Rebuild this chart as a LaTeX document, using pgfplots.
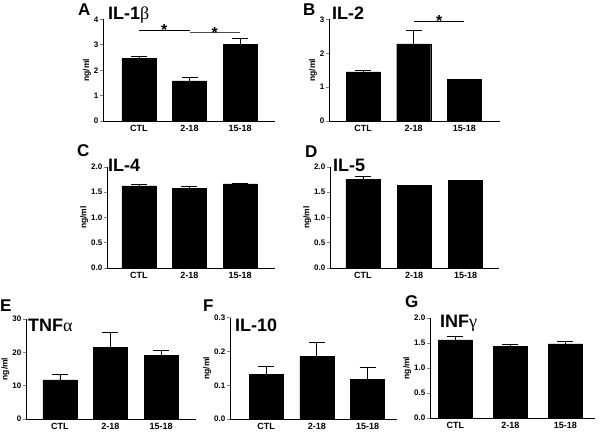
\documentclass[border=0pt]{standalone}
\usepackage{fontspec}
\setmainfont{Liberation Sans}
\newfontfamily\greek{Liberation Serif}
\usepackage{pgfplots}
\pgfplotsset{compat=1.18}
\pgfplotsset{
  panel/.style={
    scale only axis, anchor=south west, clip=false,
    axis x line=bottom, axis y line=left,
    axis line style={-, line width=0.9pt},
    ybar, bar width=34pt, ymin=0,
    xtick={0,1,2}, xticklabels={CTL,2-18,15-18},
    xtick style={draw=none},
    ytick style={line width=0.8pt},
    tick align=outside, major tick length=3pt,
    /pgf/number format/assume math mode=true,
    xticklabel style={font=\bfseries\fontsize{9}{10}\selectfont, inner ysep=1.5pt},
    yticklabel style={font=\bfseries\fontsize{8}{9}\selectfont, inner xsep=1.5pt},
    ylabel={ng/ml},
    ylabel style={font=\bfseries\fontsize{8.5}{9}\selectfont, yshift=-2pt},
  },
  bars/.style={fill=black, draw=black,
    error bars/.cd, y dir=plus, y explicit,
    error bar style={line width=0.7pt, black},
    error mark options={rotate=90, mark size=8pt, line width=0.7pt, black}},
  dec1/.style={/pgf/number format/.cd, fixed, fixed zerofill, precision=1},
}
\newcommand{\letterfont}{\bfseries\fontsize{17}{17}\selectfont}
\newcommand{\titlefont}{\bfseries\fontsize{18}{18}\selectfont}
\newcommand{\stfont}{\bfseries\fontsize{16}{16}\selectfont}
\begin{document}
\begin{tikzpicture}[x=1pt,y=1pt]
\useasboundingbox (0,0) rectangle (600,433);

% A  IL-1beta
\begin{axis}[panel, at={(103pt,312pt)}, width=172pt, height=101.5pt,
  xmin=-0.71, xmax=2.69, ymax=4, ytick={0,1,2,3,4}]
\addplot[bars] coordinates {(0,2.47) +- (0,0.06) (1,1.58) +- (0,0.14) (2,3.02) +- (0,0.24)};
\draw[line width=0.8pt] (axis cs:0,3.57) -- (axis cs:1,3.57);
\draw[line width=0.8pt, black!70] (axis cs:1,3.48) -- (axis cs:2,3.48);
\node[anchor=base, font=\stfont] at (axis cs:0.5,3.36) {*};
\node[anchor=base, font=\stfont] at (axis cs:1.5,3.25) {*};
\end{axis}
\node[anchor=base west, font=\letterfont, inner sep=0] at (78pt,417pt) {A};
\node[anchor=base west, font=\titlefont, inner sep=0] at (108pt,413pt) {IL-1{\greek\mdseries β}};

% B  IL-2
\begin{axis}[panel, at={(329pt,312pt)}, width=171pt, height=101.5pt,
  xmin=-0.67, xmax=2.70, ymax=3, ytick={0,1,2,3}]
\addplot[bars] coordinates {(0,1.45) +- (0,0.04) (1,2.28) +- (0,0.39) (2,1.23) +- (0,0.01)};
\draw[line width=0.8pt] (axis cs:1,2.935) -- (axis cs:2,2.935);
\node[anchor=base, font=\stfont] at (axis cs:1.5,2.79) {*};
\end{axis}
\node[anchor=base west, font=\letterfont, inner sep=0] at (303pt,417pt) {B};
\node[anchor=base west, font=\titlefont, inner sep=0] at (332pt,413pt) {IL-2};

% C  IL-4
\begin{axis}[panel, at={(107pt,165pt)}, width=168pt, height=101pt,
  xmin=-0.63, xmax=2.69, ymax=2, ytick={0,0.5,1,1.5,2}, yticklabel style={dec1}]
\addplot[bars] coordinates {(0,1.625) +- (0,0.035) (1,1.58) +- (0,0.04) (2,1.665) +- (0,0.015)};
\end{axis}
\node[anchor=base west, font=\letterfont, inner sep=0] at (77pt,276pt) {C};
\node[anchor=base west, font=\titlefont, inner sep=0] at (108pt,261pt) {IL-4};

% D  IL-5
\begin{axis}[panel, at={(330pt,165pt)}, width=169pt, height=101pt,
  xmin=-0.64, xmax=2.65, ymax=2, ytick={0,0.5,1,1.5,2}, yticklabel style={dec1}]
\addplot[bars] coordinates {(0,1.75) +- (0,0.06) (1,1.63) +- (0,0.015) (2,1.73) +- (0,0.015)};
\end{axis}
\node[anchor=base west, font=\letterfont, inner sep=0] at (305pt,275pt) {D};
\node[anchor=base west, font=\titlefont, inner sep=0] at (333pt,261pt) {IL-5};

% E  TNFalpha
\begin{axis}[panel, at={(26pt,14pt)}, width=170pt, height=100pt,
  xmin=-0.67, xmax=2.69, ymax=30, ytick={0,10,20,30}]
\addplot[bars] coordinates {(0,11.7) +- (0,1.7) (1,21.4) +- (0,4.6) (2,19.0) +- (0,1.7)};
\end{axis}
\node[anchor=base west, font=\letterfont, inner sep=0] at (0pt,121pt) {E};
\node[anchor=base west, font=\titlefont, inner sep=0] at (28pt,101pt) {TNF{\greek\mdseries α}};

% F  IL-10
\begin{axis}[panel, at={(230pt,14pt)}, width=167pt, height=101.2pt,
  xmin=-0.71, xmax=2.58, ymax=0.3, ytick={0,0.1,0.2,0.3}, yticklabel style={dec1}]
\addplot[bars] coordinates {(0,0.132) +- (0,0.023) (1,0.186) +- (0,0.04) (2,0.118) +- (0,0.034)};
\end{axis}
\node[anchor=base west, font=\letterfont, inner sep=0] at (203pt,121pt) {F};
\node[anchor=base west, font=\titlefont, inner sep=0] at (235pt,101pt) {IL-10};

% G  INFgamma
\begin{axis}[panel, at={(430pt,15pt)}, width=165pt, height=100pt,
  xmin=-0.46, xmax=2.54, ymax=2, ytick={0,0.5,1,1.5,2}, yticklabel style={dec1}]
\addplot[bars] coordinates {(0,1.56) +- (0,0.07) (1,1.43) +- (0,0.05) (2,1.48) +- (0,0.05)};
\end{axis}
\node[anchor=base west, font=\letterfont, inner sep=0] at (405pt,125pt) {G};
\node[anchor=base west, font=\titlefont, inner sep=0] at (440pt,105pt) {INF{\greek\mdseries γ}};
\end{tikzpicture}
\end{document}
